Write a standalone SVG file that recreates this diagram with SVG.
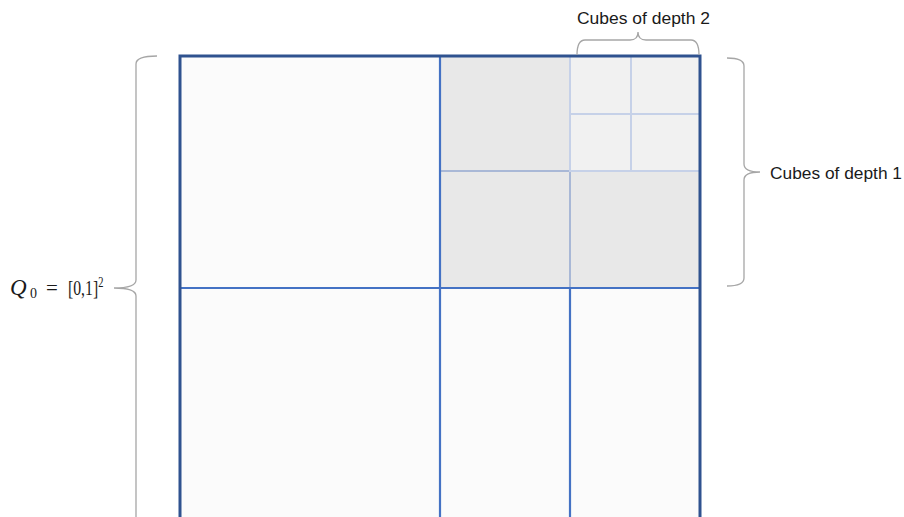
<svg xmlns="http://www.w3.org/2000/svg" width="904" height="517" viewBox="0 0 904 517">
<style>
.brace{fill:none;stroke:#A6A6A6;stroke-width:1.3}
.lbl{font-family:"Liberation Sans",Arial,sans-serif;font-size:16.5px;fill:#1a1a1a}
.math{font-family:"Liberation Serif","DejaVu Serif",serif;fill:#1a1a1a;font-size:21px}
.q{font-size:23px;font-style:italic}
.sub{font-size:14px}
.sup{font-size:14px}
.w{fill:#FBFBFB}
.d1{fill:#E8E8E8;stroke:#A9B8D6;stroke-width:2}
.d2{fill:#F1F1F1;stroke:#C6D1E8;stroke-width:2}
.blue{stroke:#4472C4;stroke-width:2.2;fill:none}
</style>
<rect width="904" height="517" fill="#FFFFFF"/>
<g id="square">
<rect class="w" x="180" y="56" width="520" height="464"/>
</g>
<g id="depth1">
<rect class="d1" x="440" y="56" width="130" height="115"/>
<rect class="d1" x="440" y="171" width="130" height="117"/>
<rect class="d1" x="570" y="171" width="130" height="117"/>
</g>
<g id="depth2">
<rect class="d2" x="570" y="56" width="61" height="58"/>
<rect class="d2" x="631" y="56" width="69" height="58"/>
<rect class="d2" x="570" y="114" width="61" height="57"/>
<rect class="d2" x="631" y="114" width="69" height="57"/>
</g>
<g id="grid">
<line class="blue" x1="180" y1="288" x2="700" y2="288"/>
<line class="blue" x1="440" y1="56" x2="440" y2="520"/>
<line class="blue" x1="570" y1="288" x2="570" y2="520"/>
<line class="blue" x1="180" y1="56" x2="440" y2="56"/>
<rect x="180" y="56" width="520" height="464" fill="none" stroke="#2F528F" stroke-width="3"/>
</g>
<g id="braces">
<path class="brace" d="M157,56 Q136,56 136,64 L136,280 Q136,288 114,288 Q136,288 136,296 L136,520"/>
<path class="brace" d="M727,58 Q744,58 744,66 L744,164 Q744,172 760,172 Q744,172 744,180 L744,278 Q744,286 727,286"/>
<path class="brace" d="M577,55 Q577,40 585,40 L630,40 Q638,40 638,32 Q638,40 646,40 L691,40 Q699,40 699,55"/>
</g>
<g id="labels">
<text class="lbl" x="770" y="179" textLength="132" lengthAdjust="spacingAndGlyphs">Cubes of depth 1</text>
<text class="lbl" x="577" y="24" textLength="133" lengthAdjust="spacingAndGlyphs">Cubes of depth 2</text>
<text class="math q" x="10" y="295">Q</text>
<text class="math sub" x="30" y="298">0</text>
<text class="math" x="46" y="295">=</text>
<text class="math" transform="translate(68,295) scale(0.75,1)">[0,1]<tspan class="sup" dy="-8">2</tspan></text>
</g>
</svg>
